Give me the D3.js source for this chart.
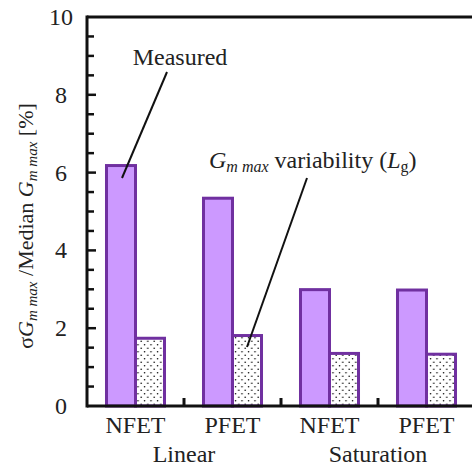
<!DOCTYPE html>
<html><head><meta charset="utf-8">
<script src="https://cdn.jsdelivr.net/npm/d3@7"></script>
<style>body{margin:0;background:#fff}svg{display:block}</style>
</head><body>
<script>
const categories = ["NFET","PFET","NFET","PFET"];
const groups = ["Linear","Saturation"];
const seriesNames = ["Measured","Variability"];
const measured = [6.22, 5.38, 3.03, 3.02];
const variability = [1.78, 1.85, 1.39, 1.37];
const yTicks = [0,2,4,6,8,10];

const W=472,H=468;
const FONT='"Liberation Serif"';
const svg=d3.select("body").append("svg").attr("width",W).attr("height",H);
const pLeft=87,pRight=475,pTop=17,pBottom=406;
const purple="#7030A0", fillP="#CC99FF", txt="#222";

const x=d3.scaleBand().domain(d3.range(categories.length)).range([pLeft,pRight]);
const xs=d3.scaleBand().domain(seriesNames).range([0,x.bandwidth()]).paddingOuter(0.672);
const y=d3.scaleLinear().domain([0,10]).range([pBottom,pTop]);

const defs=svg.append("defs");
const pat=defs.append("pattern").attr("id","dots").attr("patternUnits","userSpaceOnUse").attr("width",6.5).attr("height",7);
pat.append("rect").attr("width",6.5).attr("height",7).attr("fill","#fff");
pat.append("circle").attr("cx",1.5).attr("cy",1.8).attr("r",0.75).attr("fill","#000");
pat.append("circle").attr("cx",4.75).attr("cy",5.3).attr("r",0.75).attr("fill","#000");

// bars
const data=categories.map((c,i)=>({i,m:measured[i],v:variability[i]}));
const g=svg.append("g");
g.selectAll(".bm").data(data).join("rect")
  .attr("x",d=>x(d.i)+xs("Measured")).attr("width",xs.bandwidth())
  .attr("y",d=>y(d.m)+1.5).attr("height",d=>y(0)-y(d.m)-1.5)
  .attr("fill",fillP).attr("stroke",purple).attr("stroke-width",3);
g.selectAll(".bv").data(data).join("rect")
  .attr("x",d=>x(d.i)+xs("Variability")).attr("width",xs.bandwidth())
  .attr("y",d=>y(d.v)+1.5).attr("height",d=>y(0)-y(d.v)-1.5)
  .attr("fill","url(#dots)").attr("stroke",purple).attr("stroke-width",3);

// frame lines
svg.append("line").attr("x1",pLeft).attr("x2",W+5).attr("y1",pTop).attr("y2",pTop).attr("stroke","#111").attr("stroke-width",3);
svg.append("line").attr("x1",pLeft).attr("x2",W+5).attr("y1",pBottom).attr("y2",pBottom).attr("stroke","#111").attr("stroke-width",3);
svg.append("line").attr("x1",pLeft).attr("x2",pLeft).attr("y1",pTop-1.5).attr("y2",pBottom+1.5).attr("stroke","#111").attr("stroke-width",3);

// y ticks (inside)
const minor=d3.range(0,10.01,0.5).filter(v=>v>0&&v<10);
svg.append("g").selectAll("line").data(minor).join("line")
  .attr("x1",pLeft).attr("x2",d=>pLeft+(d%2===0?9:7)).attr("y1",d=>y(d)).attr("y2",d=>y(d))
  .attr("stroke","#111").attr("stroke-width",2.5);
svg.append("g").selectAll("text").data(yTicks).join("text")
  .attr("x",61).attr("y",d=>y(d)+8).attr("text-anchor","middle").attr("font-size",24).attr("fill",txt).style("font-family",FONT).text(d=>d);

// x ticks at category boundaries
svg.append("g").selectAll("line").data(d3.range(1,categories.length+1)).join("line")
  .attr("x1",d=>x(d-1)+x.bandwidth()).attr("x2",d=>x(d-1)+x.bandwidth())
  .attr("y1",pBottom).attr("y2",pBottom-8).attr("stroke","#111").attr("stroke-width",3);
svg.append("g").selectAll("text").data(categories).join("text")
  .attr("x",(d,i)=>x(i)+x.bandwidth()/2).attr("y",433).attr("text-anchor","middle").attr("font-size",24).attr("fill",txt).style("font-family",FONT).text(d=>d);
svg.append("g").selectAll("text").data(groups).join("text")
  .attr("x",(d,i)=>x(2*i)+x.bandwidth()).attr("y",462).attr("text-anchor","middle").attr("font-size",24).attr("fill",txt).style("font-family",FONT).text(d=>d);

// y label
const yl=svg.append("text").attr("transform","translate(33,226) rotate(-90)").attr("text-anchor","middle").attr("font-size",22).attr("fill",txt).style("font-family",FONT);
yl.append("tspan").text("σ");
yl.append("tspan").attr("font-style","italic").text("G");
yl.append("tspan").attr("font-style","italic").attr("font-size",15).attr("dy",4).text("m max");
yl.append("tspan").attr("dy",-4).text(" /Median ");
yl.append("tspan").attr("font-style","italic").text("G");
yl.append("tspan").attr("font-style","italic").attr("font-size",15).attr("dy",4).text("m max");
yl.append("tspan").attr("dy",-4).text(" [%]");

// annotations
svg.append("text").attr("x",180).attr("y",65).attr("text-anchor","middle").attr("font-size",24).attr("fill",txt).style("font-family",FONT).text("Measured");
svg.append("line").attr("x1",167).attr("y1",72).attr("x2",122).attr("y2",178).attr("stroke","#111").attr("stroke-width",2);
const vt=svg.append("text").attr("x",209).attr("y",168).attr("font-size",24).attr("fill",txt).style("font-family",FONT);
vt.append("tspan").attr("font-style","italic").text("G");
vt.append("tspan").attr("font-style","italic").attr("font-size",16).attr("dy",4).text("m max");
vt.append("tspan").attr("dy",-4).text(" variability (");
vt.append("tspan").attr("font-style","italic").text("L");
vt.append("tspan").attr("font-size",16).attr("dy",4).text("g");
vt.append("tspan").attr("dy",-4).text(")");
svg.append("line").attr("x1",307).attr("y1",178).attr("x2",247).attr("y2",347).attr("stroke","#111").attr("stroke-width",2);
</script>
</body></html>
